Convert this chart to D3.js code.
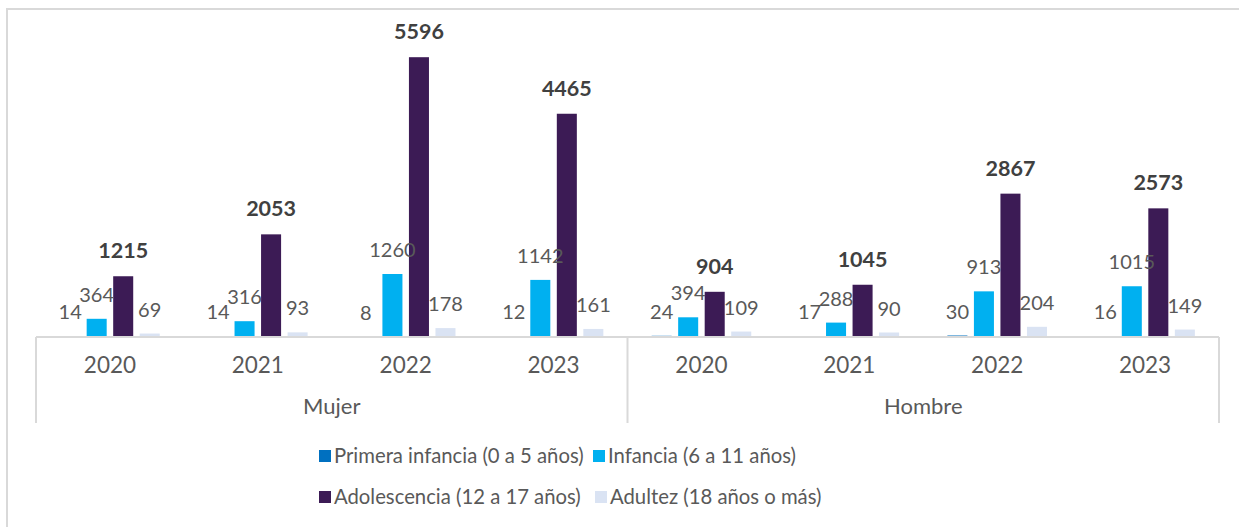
<!DOCTYPE html>
<html>
<head>
<meta charset="utf-8">
<script src="https://cdn.jsdelivr.net/npm/d3@7"></script>
<style>
  html, body { margin: 0; padding: 0; background: #fff; }
  svg { display: block; font-family: Lato, "Open Sans", sans-serif; }
</style>
</head>
<body>
<svg id="chart" width="1239" height="527"></svg>
<script>
// Grouping: sex on the outer level, year on the inner level
const sexes = ["Mujer", "Hombre"];
const years = ["2020", "2021", "2022", "2023"];

// Counts per age group, ordered Mujer 2020..2023 then Hombre 2020..2023
const primeraInfancia = [14, 14, 8, 12, 24, 17, 30, 16];
const infancia = [364, 316, 1260, 1142, 394, 288, 913, 1015];
const adolescencia = [1215, 2053, 5596, 4465, 904, 1045, 2867, 2573];
const adultez = [69, 93, 178, 161, 109, 90, 204, 149];

const seriesNames = [
  "Primera infancia (0 a 5 años)",
  "Infancia (6 a 11 años)",
  "Adolescencia (12 a 17 años)",
  "Adultez (18 años o más)"
];
const seriesColors = ["#0070c0", "#00b0f0", "#3c1b55", "#dae3f3"];
const seriesValues = [primeraInfancia, infancia, adolescencia, adultez];

const svg = d3.select("#chart");

// Outer frame (top and left edges visible)
svg.append("rect")
  .attr("x", 7).attr("y", 9).attr("width", 1300).attr("height", 600)
  .attr("fill", "none").attr("stroke", "#d9d9d9").attr("stroke-width", 2);

const baseY = 337;
const x0 = 36, x1 = 1219;

const groupKeys = [];
sexes.forEach(s => years.forEach(y => groupKeys.push(s + "|" + y)));

const xGroup = d3.scaleBand().domain(groupKeys).range([x0, x1]).padding(0);
const xSeries = d3.scaleBand().domain(d3.range(seriesNames.length))
  .range([0, xGroup.bandwidth()]).paddingInner(0.245).paddingOuter(0.91);
const y = d3.scaleLinear().domain([0, 6000]).range([baseY, 37]);

// Bars
const barData = [];
seriesValues.forEach((vals, si) => {
  vals.forEach((v, gi) => barData.push({ si, gi, v }));
});

svg.append("g").selectAll("rect").data(barData).join("rect")
  .attr("x", d => xGroup(groupKeys[d.gi]) + xSeries(d.si))
  .attr("width", xSeries.bandwidth())
  .attr("y", d => y(d.v))
  .attr("height", d => baseY - y(d.v))
  .attr("fill", d => seriesColors[d.si]);

// Value labels
svg.append("g").selectAll("text").data(barData).join("text")
  .attr("x", d => xGroup(groupKeys[d.gi]) + xSeries(d.si) + xSeries.bandwidth() / 2)
  .attr("y", d => y(d.v) - (d.si === 2 ? 18 : 17))
  .attr("text-anchor", "middle")
  .attr("font-size", d => d.si === 2 ? 21.5 : 20)
  .attr("font-weight", d => d.si === 2 ? 700 : 400)
  .attr("fill", d => d.si === 2 ? "#404040" : "#595959")
  .text(d => d.v);

// Category axis: baseline, separators, year labels, sex labels
const axis = svg.append("g");
axis.append("line")
  .attr("x1", x0).attr("x2", x1).attr("y1", baseY).attr("y2", baseY)
  .attr("stroke", "#d9d9d9").attr("stroke-width", 2);

const sepX = [x0, xGroup(groupKeys[years.length]), x1];
axis.selectAll("line.sep").data(sepX).join("line")
  .attr("class", "sep")
  .attr("x1", d => d).attr("x2", d => d)
  .attr("y1", baseY).attr("y2", 423)
  .attr("stroke", "#d9d9d9").attr("stroke-width", 2);

axis.selectAll("text.year").data(groupKeys).join("text")
  .attr("class", "year")
  .attr("x", d => xGroup(d) + xGroup.bandwidth() / 2)
  .attr("y", 373)
  .attr("text-anchor", "middle")
  .attr("font-size", 22.5)
  .attr("fill", "#595959")
  .text(d => d.split("|")[1]);

axis.selectAll("text.sex").data(sexes).join("text")
  .attr("class", "sex")
  .attr("x", (d, i) => (sepX[i] + sepX[i + 1]) / 2)
  .attr("y", 414)
  .attr("text-anchor", "middle")
  .attr("font-size", 22)
  .attr("fill", "#595959")
  .text(d => d);

// Legend in two rows of two items
const legendPos = [
  { x: 319, y: 456 }, { x: 593, y: 456 },
  { x: 319, y: 497 }, { x: 595, y: 497 }
];
const legend = svg.append("g").selectAll("g").data(seriesNames).join("g")
  .attr("transform", (d, i) => `translate(${legendPos[i].x},${legendPos[i].y})`);
legend.append("rect")
  .attr("x", 0).attr("y", -6).attr("width", 12).attr("height", 12)
  .attr("fill", (d, i) => seriesColors[i]);
legend.append("text")
  .attr("x", 15).attr("y", 7)
  .attr("font-size", 20.3)
  .attr("fill", "#595959")
  .text(d => d);
</script>
</body>
</html>
